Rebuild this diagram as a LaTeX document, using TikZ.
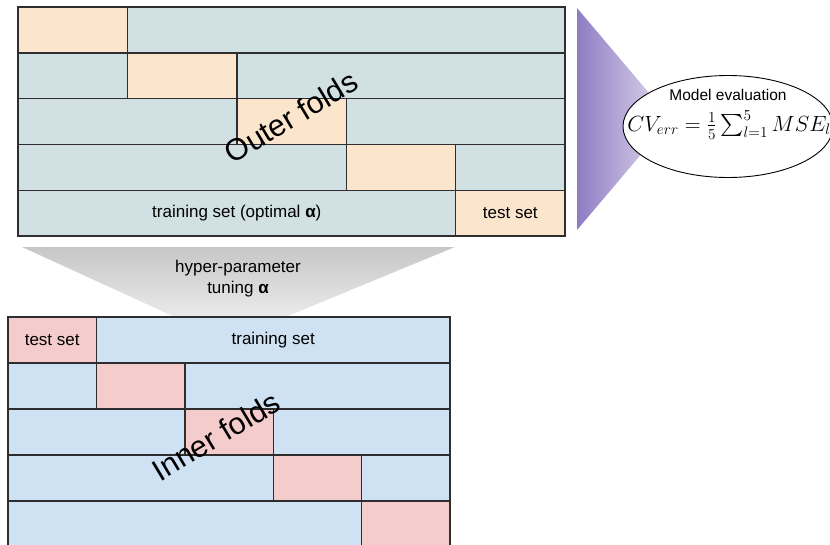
\documentclass[tikz,border=0pt]{standalone}
\usepackage{exscale}
\usepackage{graphicx}
\usepackage{fontspec}
\setmainfont{Liberation Sans}
\usetikzlibrary{shapes.geometric}
\definecolor{tgray}{HTML}{D0E0E3}
\definecolor{torange}{HTML}{FCE5CD}
\definecolor{bblue}{HTML}{CFE2F3}
\definecolor{bpink}{HTML}{F4CCCC}
\definecolor{gridline}{HTML}{2E2E2E}
\definecolor{purpleD}{HTML}{8E7CC3}
\definecolor{purpleL}{HTML}{E4DEF0}
\newcommand{\mycell}[7]{%
  \node[cell, fill=#6, minimum width={(#4)-(#2)}, minimum height={(#5)-(#3)}]
    (#1) at ({((#2)+(#4))/2},{((#3)+(#5))/2}) {#7};}
\begin{document}
\begin{tikzpicture}[x=1pt,y=-1pt,
  cell/.style={draw=gridline, line width=1.4pt, inner sep=0pt, font=\fontsize{17}{20}\selectfont},
  foldlabel/.style={rotate=31, inner sep=0pt, font=\fontsize{30.5}{32}\selectfont},
  plain/.style={inner sep=0pt}]
\useasboundingbox (0,0) rectangle (830,544);
% hyper-parameter funnel
\shade[top color=black!22, bottom color=black!8] (22,247) -- (455,247) -- (283,318) -- (177,318) -- cycle;
\node[plain, align=center, font=\fontsize{17}{21}\selectfont] (tune) at (238,279) {hyper-parameter\\tuning \textbf{α}};
% evaluation triangle
\shade[left color=purpleD, right color=purpleL] (577,8) -- (671,119) -- (577,230) -- cycle;
% outer folds grid
\mycell{o1b}{18}{7}{127.4}{52.8}{torange}{}
\mycell{o1c}{127.4}{7}{565}{52.8}{tgray}{}
\mycell{o2a}{18}{52.8}{127.4}{98.6}{tgray}{}
\mycell{o2b}{127.4}{52.8}{236.8}{98.6}{torange}{}
\mycell{o2c}{236.8}{52.8}{565}{98.6}{tgray}{}
\mycell{o3a}{18}{98.6}{236.8}{144.4}{tgray}{}
\mycell{o3b}{236.8}{98.6}{346.2}{144.4}{torange}{}
\mycell{o3c}{346.2}{98.6}{565}{144.4}{tgray}{}
\mycell{o4a}{18}{144.4}{346.2}{190.2}{tgray}{}
\mycell{o4b}{346.2}{144.4}{455.6}{190.2}{torange}{}
\mycell{o4c}{455.6}{144.4}{565}{190.2}{tgray}{}
\mycell{o5a}{18}{190.2}{455.6}{236}{tgray}{training set (optimal \textbf{α})}
\mycell{o5b}{455.6}{190.2}{565}{236}{torange}{test set}
\node[foldlabel] (outer) at (291,117) {Outer folds};
% inner folds grid
\mycell{i1b}{8}{317}{96.4}{363}{bpink}{test set}
\mycell{i1c}{96.4}{317}{450}{363}{bblue}{training set}
\mycell{i2a}{8}{363}{96.4}{409}{bblue}{}
\mycell{i2b}{96.4}{363}{184.8}{409}{bpink}{}
\mycell{i2c}{184.8}{363}{450}{409}{bblue}{}
\mycell{i3a}{8}{409}{184.8}{455}{bblue}{}
\mycell{i3b}{184.8}{409}{273.2}{455}{bpink}{}
\mycell{i3c}{273.2}{409}{450}{455}{bblue}{}
\mycell{i4a}{8}{455}{273.2}{501}{bblue}{}
\mycell{i4b}{273.2}{455}{361.6}{501}{bpink}{}
\mycell{i4c}{361.6}{455}{450}{501}{bblue}{}
\mycell{i5a}{8}{501}{361.6}{547}{bblue}{}
\mycell{i5b}{361.6}{501}{450}{547}{bpink}{}
\node[foldlabel] (inner) at (216,436) {Inner folds};
% model evaluation
\node[ellipse, draw=black, line width=0.9pt, fill=white, minimum width=210, minimum height=102, inner sep=0pt] (eval) at (728,126.5) {};
\node[plain, font=\fontsize{15.5}{18}\selectfont] (evaltitle) at (728,95) {Model evaluation};
\node[plain, font=\fontsize{20.74}{25}\selectfont] (cv) at (729,125) {\scalebox{1.06}{$CV_{err} = \frac{1}{5}\sum_{l=1}^{5} MSE_l$}};
\end{tikzpicture}
\end{document}
